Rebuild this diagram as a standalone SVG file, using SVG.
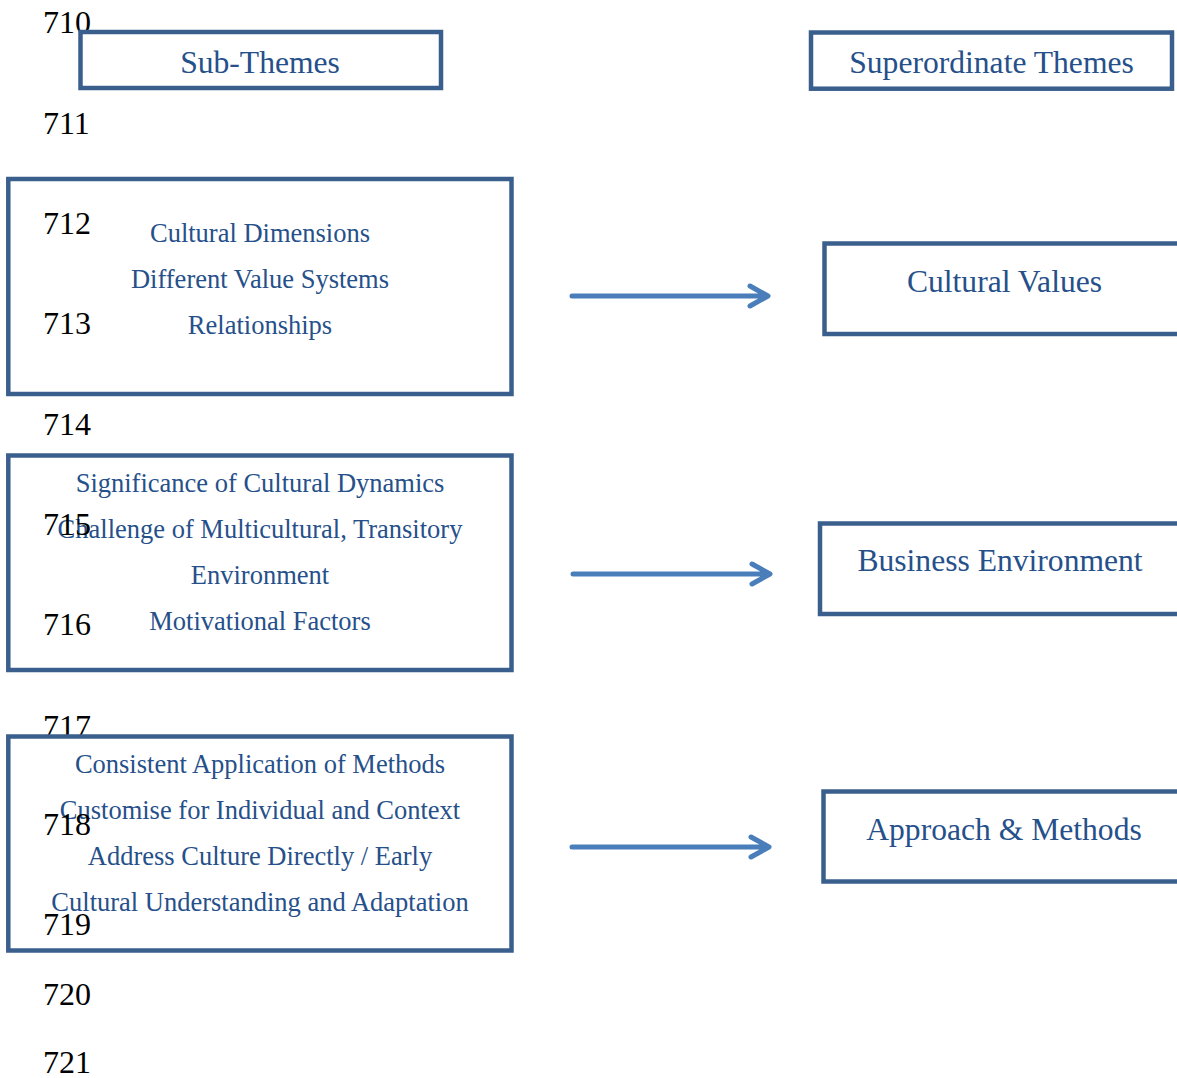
<svg xmlns="http://www.w3.org/2000/svg" width="1177" height="1078" viewBox="0 0 1177 1078">
  <style>
    .ln { font-family: "Liberation Serif", "Times New Roman", serif; font-size: 32px; fill: #000000; }
    .box { fill: #ffffff; stroke: #3A5F8D; stroke-width: 4.5; }
    .hd { font-family: "Liberation Serif", "Times New Roman", serif; font-size: 31.6px; fill: #26508A; text-anchor: middle; }
    .it { font-family: "Liberation Serif", "Times New Roman", serif; font-size: 26.5px; fill: #26508A; text-anchor: middle; }
    .arr { fill: none; stroke: #4A7EBB; stroke-width: 5; stroke-linecap: round; stroke-linejoin: round; }
  </style>
  <defs>
    <clipPath id="clip2"><rect x="10.5" y="457.7" width="498.6" height="202"/></clipPath>
  </defs>
  <rect width="1177" height="1078" fill="#ffffff"/>

  <g id="line-numbers-back">
    <text class="ln" x="43" y="33">710</text>
    <text class="ln" x="43" y="737">717</text>
  </g>

  <g id="node-subthemes-header">
    <rect class="box" x="80.5" y="32" width="360.5" height="56"/>
    <text class="hd" x="260" y="72.5">Sub-Themes</text>
  </g>

  <g id="node-superordinate-header">
    <rect class="box" x="811" y="32.5" width="361" height="56.2"/>
    <text class="hd" x="991.5" y="73">Superordinate Themes</text>
  </g>

  <g id="node-subthemes-1">
    <rect class="box" x="8.3" y="179" width="503.2" height="215"/>
    <text class="it" x="260" y="242">Cultural Dimensions</text>
    <text class="it" x="260" y="288">Different Value Systems</text>
    <text class="it" x="260" y="334">Relationships</text>
  </g>

  <g id="node-subthemes-2">
    <rect class="box" x="8.3" y="455.5" width="503.2" height="214.5"/>
    <g clip-path="url(#clip2)">
      <text class="it" x="260" y="492">Significance of Cultural Dynamics</text>
      <text class="it" x="260" y="538">Challenge of Multicultural, Transitory</text>
      <text class="it" x="260" y="584">Environment</text>
      <text class="it" x="260" y="630">Motivational Factors</text>
    </g>
  </g>

  <g id="node-subthemes-3">
    <rect class="box" x="8.3" y="736.5" width="503.2" height="214"/>
    <text class="it" x="260" y="773">Consistent Application of Methods</text>
    <text class="it" x="260" y="819">Customise for Individual and Context</text>
    <text class="it" x="260" y="865">Address Culture Directly / Early</text>
    <text class="it" x="260" y="911">Cultural Understanding and Adaptation</text>
  </g>

  <g id="node-cultural-values">
    <rect class="box" x="824.5" y="243.5" width="370" height="90.5"/>
    <text class="hd" x="1004.5" y="292">Cultural Values</text>
  </g>

  <g id="node-business-environment">
    <rect class="box" x="820" y="523.5" width="375" height="90.5"/>
    <text class="hd" x="1000" y="571">Business Environment</text>
  </g>

  <g id="node-approach-methods">
    <rect class="box" x="823.5" y="791.5" width="372" height="90"/>
    <text class="hd" x="1004" y="840">Approach &amp; Methods</text>
  </g>

  <g id="connectors">
    <path class="arr" d="M572 296 H766 M750 286 L768 296 L750 306"/>
    <path class="arr" d="M573 574 H768 M752 564 L770 574 L752 584"/>
    <path class="arr" d="M572 847 H767 M751 837 L769 847 L751 857"/>
  </g>

  <g id="line-numbers-front">
    <text class="ln" x="43" y="134">711</text>
    <text class="ln" x="43" y="234">712</text>
    <text class="ln" x="43" y="334">713</text>
    <text class="ln" x="43" y="435">714</text>
    <text class="ln" x="43" y="535">715</text>
    <text class="ln" x="43" y="635">716</text>
    <text class="ln" x="43" y="835">718</text>
    <text class="ln" x="43" y="935">719</text>
    <text class="ln" x="43" y="1005">720</text>
    <text class="ln" x="43" y="1073">721</text>
  </g>
</svg>
